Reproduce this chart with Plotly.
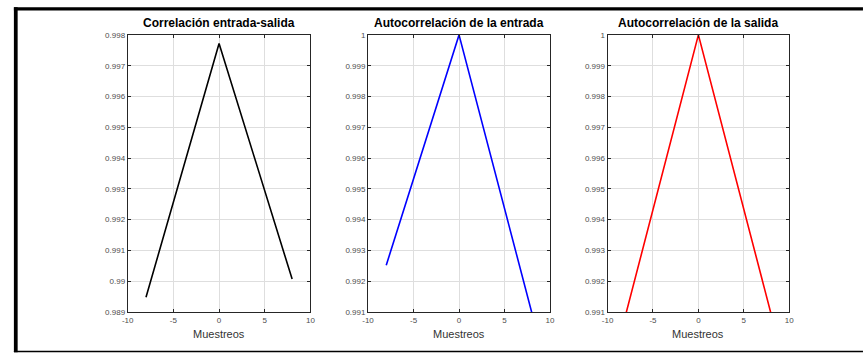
import plotly.graph_objects as go

# Lags (samples) and correlation values for each panel
lags_xy = [-8, 0, 8]
corr_xy = [0.98948, 0.99772, 0.99007]

lags_xx = [-8, 0, 8]
corr_xx = [0.99252, 1.0, 0.99098]

lags_yy = [-8, 0, 8]
corr_yy = [0.99092, 1.0, 0.99094]

titles = ["Correlación entrada-salida",
          "Autocorrelación de la entrada",
          "Autocorrelación de la salida"]
xlabel = "Muestreos"

x_ticks = [-10, -5, 0, 5, 10]
x_ticktext = ["-10", "-5", "0", "5", "10"]

y1_ticks = [0.989, 0.990, 0.991, 0.992, 0.993, 0.994, 0.995, 0.996, 0.997, 0.998]
y1_ticktext = ["0.989", "0.99", "0.991", "0.992", "0.993", "0.994", "0.995",
               "0.996", "0.997", "0.998"]
y23_ticks = [0.991, 0.992, 0.993, 0.994, 0.995, 0.996, 0.997, 0.998, 0.999, 1.0]
y23_ticktext = ["0.991", "0.992", "0.993", "0.994", "0.995", "0.996", "0.997",
                "0.998", "0.999", "1"]

W, H = 866, 358

# Axes boxes in pixels (left, right)
x_boxes = [(123.3, 308.3), (366.7, 551.0), (609.3, 793.3)]
y_top, y_bot = 31.7, 316.0

def px_x(v):
    return v / W

def px_y(v):
    return 1 - v / H

fig = go.Figure()

series = [(lags_xy, corr_xy, "#000000"),
          (lags_xx, corr_xx, "#0000ff"),
          (lags_yy, corr_yy, "#ff0000")]

for i, (xs, ys, col) in enumerate(series):
    suffix = "" if i == 0 else str(i + 1)
    fig.add_trace(go.Scatter(x=xs, y=ys, mode="lines",
                             line=dict(color=col, width=1.6),
                             xaxis="x" + suffix, yaxis="y" + suffix,
                             showlegend=False, hoverinfo="skip"))

tick_font = dict(family="Liberation Sans, Arial, sans-serif", size=8, color="#4d4d4d")

for i, (x0, x1) in enumerate(x_boxes):
    suffix = "" if i == 0 else str(i + 1)
    yticks = y1_ticks if i == 0 else y23_ticks
    ytext = y1_ticktext if i == 0 else y23_ticktext
    yrange = [0.989, 0.998] if i == 0 else [0.991, 1.0]
    fig.layout["xaxis" + suffix] = dict(
        domain=[px_x(x0), px_x(x1)], anchor="y" + suffix,
        range=[-10, 10], tickvals=x_ticks, ticktext=x_ticktext,
        ticks="inside", ticklen=3, tickcolor="#262626", tickwidth=1,
        showline=True, linecolor="#262626", linewidth=1, mirror="ticks",
        showgrid=True, gridcolor="#dedede", gridwidth=1, zeroline=False,
        tickfont=tick_font, fixedrange=True)
    fig.layout["yaxis" + suffix] = dict(
        domain=[px_y(y_bot), px_y(y_top)], anchor="x" + suffix,
        range=yrange, tickvals=yticks, ticktext=ytext,
        ticks="inside", ticklen=3, tickcolor="#262626", tickwidth=1,
        showline=True, linecolor="#262626", linewidth=1, mirror="ticks",
        showgrid=True, gridcolor="#dedede", gridwidth=1, zeroline=False,
        tickfont=tick_font, fixedrange=True)

annotations = []
for i, (x0, x1) in enumerate(x_boxes):
    cx = px_x((x0 + x1) / 2)
    annotations.append(dict(
        text="<b>" + titles[i] + "</b>", x=cx, y=px_y(29.0),
        xref="paper", yref="paper", xanchor="center", yanchor="bottom",
        showarrow=False,
        font=dict(family="Liberation Sans, Arial, sans-serif", size=12, color="#000000")))
    annotations.append(dict(
        text=xlabel, x=cx, y=px_y(330.0),
        xref="paper", yref="paper", xanchor="center", yanchor="top",
        showarrow=False,
        font=dict(family="Liberation Sans, Arial, sans-serif", size=11, color="#333333")))

# Figure window frame
shapes = [
    dict(type="rect", xref="paper", yref="paper",
         x0=px_x(8), x1=px_x(W + 2), y0=px_y(6.7), y1=px_y(3.3),
         fillcolor="#000000", line=dict(width=0)),
    dict(type="rect", xref="paper", yref="paper",
         x0=px_x(8), x1=px_x(11.8), y0=px_y(357.3), y1=px_y(3.3),
         fillcolor="#000000", line=dict(width=0)),
    dict(type="rect", xref="paper", yref="paper",
         x0=px_x(8), x1=px_x(W + 2), y0=px_y(357.3), y1=px_y(355.8),
         fillcolor="#000000", line=dict(width=0)),
]

fig.update_layout(
    width=W, height=H,
    margin=dict(l=0, r=0, t=0, b=0),
    paper_bgcolor="#ffffff", plot_bgcolor="#ffffff",
    annotations=annotations, shapes=shapes,
    showlegend=False,
)

fig.write_html("out.html", config={"displayModeBar": False})
